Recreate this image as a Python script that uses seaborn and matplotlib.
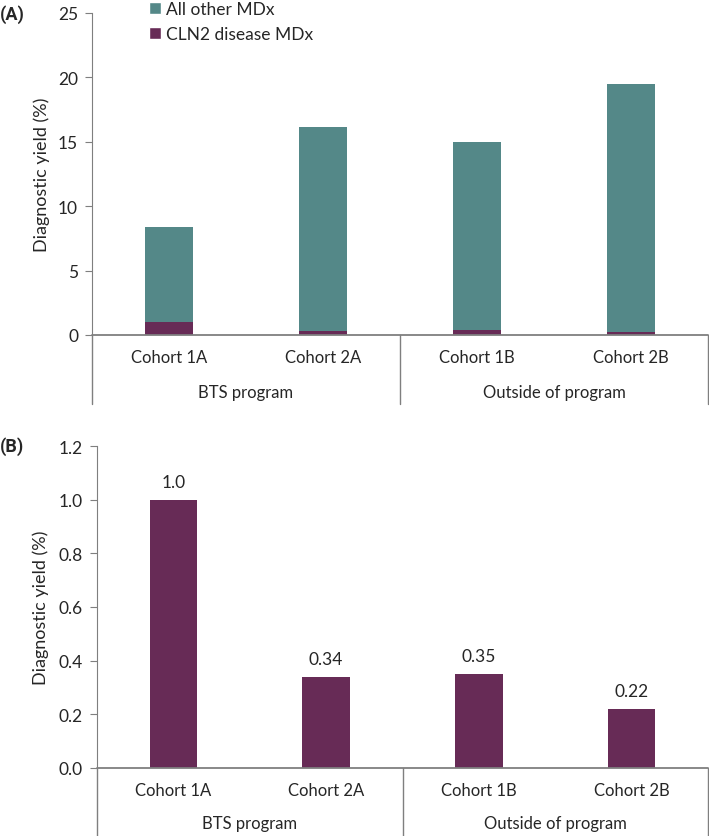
import matplotlib
matplotlib.use("Agg")
import matplotlib.pyplot as plt
import seaborn as sns
import pandas as pd
from matplotlib.patches import Patch

# data
cohorts = ["Cohort 1A", "Cohort 2A", "Cohort 1B", "Cohort 2B"]
groups = ["BTS program", "Outside of program"]
total_yield = [8.37, 16.14, 15.0, 19.5]      # all MDx (stack top), panel A
cln2_yield = [1.0, 0.34, 0.35, 0.22]          # CLN2 disease MDx
cln2_labels = ["1.0", "0.34", "0.35", "0.22"]

TEAL = "#548888"
PURPLE = "#672b56"
GREY = "#7f7f7f"

sns.set_style("white")
plt.rcParams["font.family"] = ["Lato", "DejaVu Sans"]
plt.rcParams["font.size"] = 12

df = pd.DataFrame({"cohort": cohorts, "total": total_yield, "cln2": cln2_yield})

fig = plt.figure(figsize=(7.09, 8.37), dpi=100)
ax_a = fig.add_axes([92 / 709, 1 - 336 / 837, 616 / 709, 322 / 837])
ax_b = fig.add_axes([97 / 709, 1 - 769 / 837, 611 / 709, 322 / 837])


def style_axis(ax, cohort_off, group_off, bottom_off):
    ax.set_xlim(-0.5, 3.5)
    for side in ["top", "right", "bottom"]:
        ax.spines[side].set_visible(False)
    ax.spines["left"].set_color(GREY)
    ax.axhline(0, color=GREY, lw=1.3, zorder=5, clip_on=False)
    ax.tick_params(axis="y", left=True, length=5, color=GREY, labelsize=12.5, pad=5)
    ax.tick_params(axis="x", bottom=False, labelbottom=False)
    ax.set_xlabel("")
    tr = ax.get_xaxis_transform()
    for i, c in enumerate(cohorts):
        ax.text(i, cohort_off, c, transform=tr, ha="center", va="center", fontsize=12)
    for j, g in enumerate(groups):
        ax.text(0.5 + 2 * j, group_off, g, transform=tr, ha="center", va="center", fontsize=12)
    for xs in [-0.5, 1.5, 3.5]:
        ax.plot([xs, xs], [0, bottom_off], transform=tr, color=GREY, lw=1, clip_on=False)


# panel A - stacked bars
sns.barplot(data=df, x="cohort", y="total", color=TEAL, width=0.31, saturation=1,
            linewidth=0, ax=ax_a)
sns.barplot(data=df, x="cohort", y="cln2", color=PURPLE, width=0.31, saturation=1,
            linewidth=0, ax=ax_a)
ax_a.set_ylim(0, 25)
ax_a.set_yticks([0, 5, 10, 15, 20, 25])
ax_a.set_ylabel("Diagnostic yield (%)", fontsize=13)
ax_a.yaxis.set_label_coords(-0.068, 0.5)
style_axis(ax_a, -0.068, -0.177, -0.214)

handles = [Patch(facecolor=TEAL, label="All other MDx"),
           Patch(facecolor=PURPLE, label="CLN2 disease MDx")]
fig.legend(handles=handles, loc="upper left", bbox_to_anchor=(149 / 709, 1 - 2 / 837),
           frameon=False, handlelength=0.7, handleheight=0.7, handletextpad=0.3,
           labelspacing=0.5, borderpad=0, borderaxespad=0, fontsize=12.5)

# panel B - CLN2 only
sns.barplot(data=df, x="cohort", y="cln2", color=PURPLE, width=0.31, saturation=1,
            linewidth=0, ax=ax_b)
ax_b.set_ylim(0, 1.2)
ax_b.set_yticks([0, 0.2, 0.4, 0.6, 0.8, 1.0, 1.2])
ax_b.set_yticklabels([f"{v:.1f}" for v in ax_b.get_yticks()])
ax_b.set_ylabel("Diagnostic yield (%)", fontsize=13)
ax_b.yaxis.set_label_coords(-0.078, 0.5)
ax_b.bar_label(ax_b.containers[0], labels=cln2_labels, padding=7, fontsize=12.5)
style_axis(ax_b, -0.068, -0.171, -0.215)

fig.text(0.0, 1 - 15 / 837, "(A)", fontsize=13, fontweight="bold", va="center",
         family=["Roboto", "DejaVu Sans"])
fig.text(0.0, 1 - 447 / 837, "(B)", fontsize=13, fontweight="bold", va="center",
         family=["Roboto", "DejaVu Sans"])

fig.savefig("out.png", dpi=100)
